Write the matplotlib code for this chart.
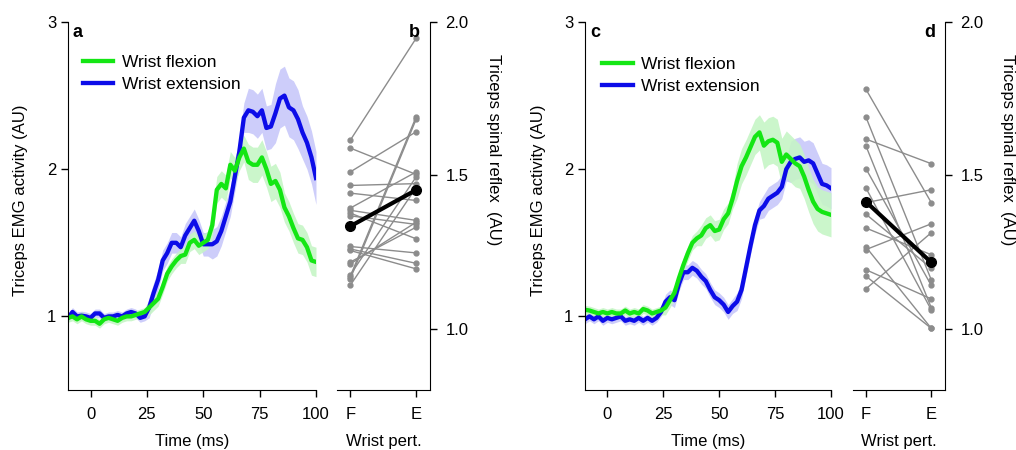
import numpy as np
import matplotlib
matplotlib.use("Agg")
import matplotlib.pyplot as plt

plt.rcParams['font.family'] = ['Liberation Sans', 'DejaVu Sans']
plt.rcParams['font.size'] = 12

# ---------------- data ----------------
time_ms = list(range(-10, 101, 2))

# panel a
a_flex = [0.99, 1.00, 0.98, 1.00, 0.98, 0.97, 0.97, 0.95, 0.98, 0.99, 0.98, 0.97, 0.99, 1.00,
          1.00, 1.01, 1.02, 1.03, 1.06, 1.09, 1.12, 1.20, 1.29, 1.34, 1.38, 1.41, 1.42, 1.50,
          1.52, 1.48, 1.50, 1.52, 1.62, 1.86, 1.90, 1.87, 2.03, 1.99, 2.08, 2.14, 2.05, 2.03,
          2.03, 2.08, 2.00, 1.90, 1.92, 1.86, 1.74, 1.68, 1.60, 1.53, 1.52, 1.47, 1.38, 1.37]
a_ext = [0.99, 1.03, 1.00, 1.005, 1.00, 0.99, 1.02, 1.02, 0.99, 1.00, 1.00, 1.01, 1.00, 1.02,
         1.03, 1.02, 0.99, 1.00, 1.06, 1.16, 1.25, 1.38, 1.43, 1.50, 1.50, 1.47, 1.55, 1.60,
         1.65, 1.58, 1.49, 1.49, 1.49, 1.51, 1.58, 1.68, 1.78, 1.95, 2.12, 2.35, 2.40, 2.39,
         2.36, 2.40, 2.28, 2.29, 2.38, 2.48, 2.50, 2.42, 2.40, 2.34, 2.25, 2.18, 2.08, 1.94]
a_flex_sem = [0.03] * 18 + [0.05] * 8 + [0.06] * 6 + [0.09] * 8 + [0.12] * 8 + [0.10] * 8
a_ext_sem = [0.03] * 18 + [0.07] * 8 + [0.08] * 6 + [0.10] * 8 + [0.15] * 6 + [0.20] * 6 + [0.18] * 4

# panel c
c_flex = [1.045, 1.04, 1.03, 1.02, 1.03, 1.02, 1.03, 1.02, 1.02, 1.04, 1.02, 1.03, 1.02, 1.05,
          1.04, 1.02, 1.03, 1.04, 1.06, 1.11, 1.16, 1.26, 1.35, 1.43, 1.50, 1.53, 1.55, 1.60,
          1.62, 1.58, 1.59, 1.66, 1.70, 1.80, 1.92, 2.02, 2.08, 2.15, 2.22, 2.25, 2.16, 2.19,
          2.20, 2.18, 2.05, 2.10, 2.07, 2.04, 2.02, 1.95, 1.86, 1.78, 1.73, 1.71, 1.70, 1.69]
c_ext = [0.98, 1.00, 0.98, 1.00, 0.97, 0.99, 0.98, 0.99, 1.00, 0.97, 0.98, 0.97, 0.99, 0.97,
         0.99, 0.97, 0.99, 1.03, 1.10, 1.13, 1.11, 1.22, 1.30, 1.30, 1.33, 1.31, 1.27, 1.24,
         1.18, 1.13, 1.11, 1.08, 1.03, 1.07, 1.10, 1.18, 1.33, 1.48, 1.62, 1.72, 1.75, 1.80,
         1.82, 1.84, 1.88, 2.00, 2.05, 2.07, 2.08, 2.05, 2.06, 2.04, 1.97, 1.90, 1.89, 1.87]
c_flex_sem = [0.03] * 18 + [0.05] * 8 + [0.07] * 8 + [0.12] * 6 + [0.16] * 8 + [0.15] * 8
c_ext_sem = [0.03] * 18 + [0.05] * 8 + [0.05] * 8 + [0.06] * 6 + [0.08] * 6 + [0.14] * 10

# panel b / d : individual spinal reflex
pert_labels = ['F', 'E']
b_F = [1.614, 1.589, 1.511, 1.467, 1.442, 1.393, 1.386, 1.377, 1.368, 1.268, 1.260, 1.255,
       1.217, 1.211, 1.175, 1.170, 1.162, 1.141]
b_E = [1.947, 1.503, 1.642, 1.473, 1.418, 1.511, 1.353, 1.293, 1.340, 1.247, 1.213, 1.195,
       1.331, 1.347, 1.495, 1.691, 1.683, 1.460]
d_F = [1.780, 1.689, 1.618, 1.595, 1.521, 1.458, 1.411, 1.373, 1.328, 1.266, 1.258, 1.192,
       1.171, 1.130]
d_E = [1.411, 1.159, 1.538, 1.068, 1.141, 1.061, 1.453, 1.197, 1.241, 1.001, 1.342, 1.097,
       1.001, 1.313]

GREEN = '#14e614'
BLUE = '#0c0ce8'
GREEN_BAND = '#c6f5c6'
BLUE_BAND = '#c8c8fa'
GREY = '#8c8c8c'

W, H = 1016, 450
fig = plt.figure(figsize=(W / 100, H / 100), dpi=100)


def rect(x0, x1, y0=22, y1=390):
    return [x0 / W, 1 - y1 / H, (x1 - x0) / W, (y1 - y0) / H]


def emg_panel(ax, flex, ext, flex_sem, ext_sem, letter, leg_anchor):
    t = np.array(time_ms)
    for y, s, bc in ((ext, ext_sem, BLUE_BAND), (flex, flex_sem, GREEN_BAND)):
        y = np.array(y)
        s = np.array(s)
        ax.fill_between(t, y - s, y + s, color=bc, lw=0, alpha=0.9)
    l_ext, = ax.plot(t, ext, color=BLUE, lw=3.1, solid_joinstyle='round', label='Wrist extension')
    l_flex, = ax.plot(t, flex, color=GREEN, lw=3.1, solid_joinstyle='round', label='Wrist flexion')
    ax.set_xlim(-10, 100)
    ax.set_ylim(0.5, 3)
    ax.set_yticks([1, 2, 3])
    ax.set_xticks([0, 25, 50, 75, 100])
    ax.spines['top'].set_visible(False)
    ax.spines['right'].set_visible(False)
    ax.tick_params(direction='out', length=5, width=1, labelsize=12)
    ax.tick_params(axis='x', pad=7)
    ax.set_xlabel('Time (ms)', fontsize=12, labelpad=9)
    ax.set_ylabel('Triceps EMG activity (AU)', fontsize=12)
    ax.yaxis.set_label_coords(-0.16, 0.516)
    ax.legend(handles=[l_flex, l_ext], loc='upper left', bbox_to_anchor=leg_anchor,
              frameon=False, fontsize=12.5, handlelength=1.75, handletextpad=0.5,
              labelspacing=0.4, borderaxespad=0, borderpad=0)
    ax.text(0.02, 0.995, letter, transform=ax.transAxes, fontsize=13, fontweight='bold',
            va='top', ha='left')


def reflex_panel(ax, F, E, letter):
    for f, e in zip(F, E):
        ax.plot([0, 1], [f, e], color=GREY, lw=1, marker='o', ms=3.5, mec=GREY, mfc=GREY)
    ax.plot([0, 1], [np.mean(F), np.mean(E)], color='black', lw=3, marker='o', ms=7)
    ax.set_xlim(-0.2, 1.21)
    ax.set_ylim(0.8, 2.0)
    ax.set_xticks([0, 1])
    ax.set_xticklabels(pert_labels)
    ax.set_yticks([1.0, 1.5, 2.0])
    ax.set_yticklabels(['1.0', '1.5', '2.0'])
    ax.yaxis.tick_right()
    ax.yaxis.set_label_position('right')
    ax.spines['top'].set_visible(False)
    ax.spines['left'].set_visible(False)
    ax.tick_params(direction='out', length=5, width=1, labelsize=12)
    ax.tick_params(axis='x', pad=7)
    ax.tick_params(axis='y', pad=6)
    ax.set_xlabel('Wrist pert.', fontsize=12, labelpad=9)
    ax.set_ylabel('Triceps spinal reflex  (AU)', fontsize=12, rotation=-90, va='center')
    ax.yaxis.set_label_coords(1.68, 0.652)
    ax.text(0.89, 0.995, letter, transform=ax.transAxes, fontsize=13, fontweight='bold',
            va='top', ha='right')


ax_a = fig.add_axes(rect(68, 316))
ax_b = fig.add_axes(rect(337, 430))
ax_c = fig.add_axes(rect(585, 831))
ax_d = fig.add_axes(rect(853, 945))

emg_panel(ax_a, a_flex, a_ext, a_flex_sem, a_ext_sem, 'a', (0.06, 0.91))
reflex_panel(ax_b, b_F, b_E, 'b')
emg_panel(ax_c, c_flex, c_ext, c_flex_sem, c_ext_sem, 'c', (0.07, 0.905))
reflex_panel(ax_d, d_F, d_E, 'd')

fig.savefig('out.png', dpi=100)
